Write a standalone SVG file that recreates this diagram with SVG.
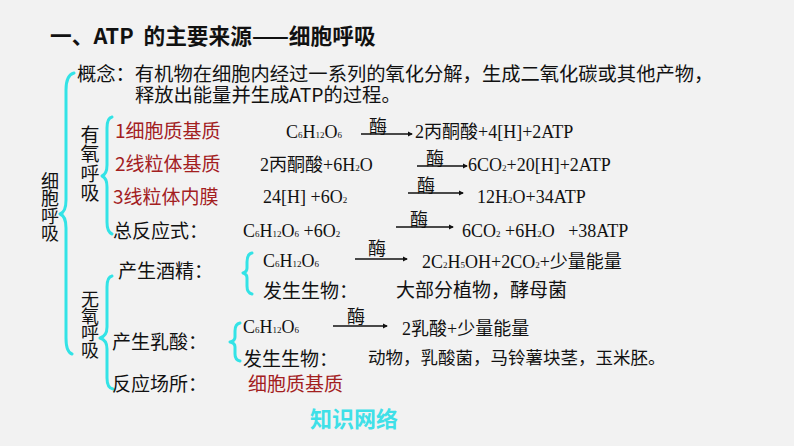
<svg xmlns="http://www.w3.org/2000/svg" width="794" height="446" viewBox="0 0 794 446">
<defs>
<style>
.bg{fill:#f2f2f2}
.t{font-family:"Liberation Serif","Noto Sans CJK SC",serif;font-size:18px;fill:#111}
.cn{font-family:"Noto Sans CJK SC",sans-serif;font-size:19px;fill:#111}
.red{fill:#a3201f}
.s{font-size:9px}
.br{fill:none;stroke:#33e3e6;stroke-width:3;stroke-linecap:round;stroke-linejoin:round}
.ar{stroke:#111;stroke-width:1.3;fill:none;marker-end:url(#ah)}
.enz{font-family:"Noto Sans CJK SC",sans-serif;font-size:18px;fill:#111}
.v{writing-mode:vertical-rl;font-family:"Noto Sans CJK SC",sans-serif;fill:#111}
</style>
<marker id="ah" viewBox="0 0 6 6" refX="5" refY="3" markerWidth="4" markerHeight="4" orient="auto"><path d="M0,0 L6,3 L0,6 z" fill="#111"/></marker>
</defs>
<rect class="bg" x="0" y="0" width="794" height="446"/>
<g id="title"><text x="50" y="44" xml:space="preserve" style="font-family:'Noto Sans CJK SC',sans-serif;font-size:21.7px;font-weight:bold;fill:#111">一、ATP  的主要来源——细胞呼吸</text></g>
<g id="braces">
<path class="br" d="M74,73 Q66,75 66,90 L66,200 Q66,212 60,214 Q66,216 66,228 L66,338 Q66,352 72,354"/>
<path class="br" d="M112,117 Q107,118 107,128 L107,165 Q107,174 102,176 Q107,178 107,187 L107,222 Q107,232 112,234"/>
<path class="br" d="M112,276 Q107,277 107,287 L107,327 Q107,336 100,338 Q107,340 107,349 L107,378 Q107,388 113,389"/>
<path class="br" d="M252,253 Q247,254 247,262 L247,268 Q247,272 243,273 Q247,274 247,278 L247,286 Q247,293 252,294"/>
<path class="br" d="M240,323 Q235,324 235,331 L235,337 Q235,341 230,342 Q235,343 235,347 L235,354 Q235,360 240,361"/>
</g>
<g id="root-label"><text class="v" x="50" y="172" style="font-size:18px;letter-spacing:-0.5px">细胞呼吸</text></g>
<g id="aerobic-label"><text class="v" x="90" y="125" style="font-size:19px;letter-spacing:0.5px">有氧呼吸</text></g>
<g id="anaerobic-label"><text class="v" x="90" y="290" style="font-size:18px;letter-spacing:-1px">无氧呼吸</text></g>
<g id="concept">
<text class="cn" style="font-size:19.3px"><tspan x="77" y="81">概念：有机物在细胞内经过一系列的氧化分解，生成二氧化碳或其他产物，</tspan><tspan x="135" y="102">释放出能量并生成ATP的过程。</tspan></text>
</g>
<g id="stage1">
<text class="cn red" x="115" y="138">1细胞质基质</text>
<text class="t" x="286" y="138">C<tspan class="s">6</tspan>H<tspan class="s">12</tspan>O<tspan class="s">6</tspan></text>
<text class="enz" x="369" y="133">酶</text>
<text class="t" x="415" y="138">2丙酮酸+4[H]+2ATP</text>
</g>
<g id="stage2">
<text class="cn red" x="115" y="171">2线粒体基质</text>
<text class="t" x="260" y="171">2丙酮酸+6H<tspan class="s">2</tspan>O</text>
<text class="enz" x="426" y="165">酶</text>
<text class="t" x="468" y="171">6CO<tspan class="s">2</tspan>+20[H]+2ATP</text>
</g>
<g id="stage3">
<text class="cn red" x="113" y="204">3线粒体内膜</text>
<text class="t" x="263" y="203">24[H] +6O<tspan class="s">2</tspan></text>
<text class="enz" x="417" y="192">酶</text>
<text class="t" x="477" y="203">12H<tspan class="s">2</tspan>O+34ATP</text>
</g>
<g id="total">
<text class="cn" x="113" y="238">总反应式：</text>
<text class="t" x="243" y="237">C<tspan class="s">6</tspan>H<tspan class="s">12</tspan>O<tspan class="s">6</tspan> +6O<tspan class="s">2</tspan></text>
<text class="enz" x="410" y="226">酶</text>
<text class="t" x="462" y="237" xml:space="preserve">6CO<tspan class="s">2</tspan> +6H<tspan class="s">2</tspan>O   +38ATP</text>
</g>
<g id="alcohol">
<text class="cn" x="118" y="278">产生酒精：</text>
<text class="t" x="263" y="267">C<tspan class="s">6</tspan>H<tspan class="s">12</tspan>O<tspan class="s">6</tspan></text>
<text class="enz" x="368" y="255">酶</text>
<text class="t" x="422" y="268">2C<tspan class="s">2</tspan>H<tspan class="s">5</tspan>OH+2CO<tspan class="s">2</tspan>+少量能量</text>
<text class="cn" x="263" y="298">发生生物：</text>
<text class="cn" x="396" y="297">大部分植物，酵母菌</text>
</g>
<g id="lactic">
<text class="cn" x="112" y="349">产生乳酸：</text>
<text class="t" x="243" y="333">C<tspan class="s">6</tspan>H<tspan class="s">12</tspan>O<tspan class="s">6</tspan></text>
<text class="enz" x="347" y="323">酶</text>
<text class="t" x="402" y="335">2乳酸+少量能量</text>
<text class="cn" x="243" y="366">发生生物：</text>
<text class="cn" x="368" y="364" style="font-size:17.5px">动物，乳酸菌，马铃薯块茎，玉米胚。</text>
</g>
<g id="site">
<text class="cn" x="112" y="391">反应场所：</text>
<text class="cn red" x="248" y="391">细胞质基质</text>
</g>
<g id="footer"><text x="310" y="427" style="font-family:'Noto Sans CJK SC',sans-serif;font-size:22px;font-weight:bold;fill:#3fe0e8">知识网络</text></g>
<g id="connectors">
<line class="ar" x1="361" y1="134" x2="412" y2="134"/>
<line class="ar" x1="417" y1="166" x2="467" y2="166"/>
<line class="ar" x1="408" y1="193" x2="463" y2="193"/>
<line class="ar" x1="396" y1="227" x2="453" y2="227"/>
<line class="ar" x1="355" y1="259" x2="407" y2="259"/>
<line class="ar" x1="333" y1="326" x2="387" y2="326"/>
</g>
</svg>
